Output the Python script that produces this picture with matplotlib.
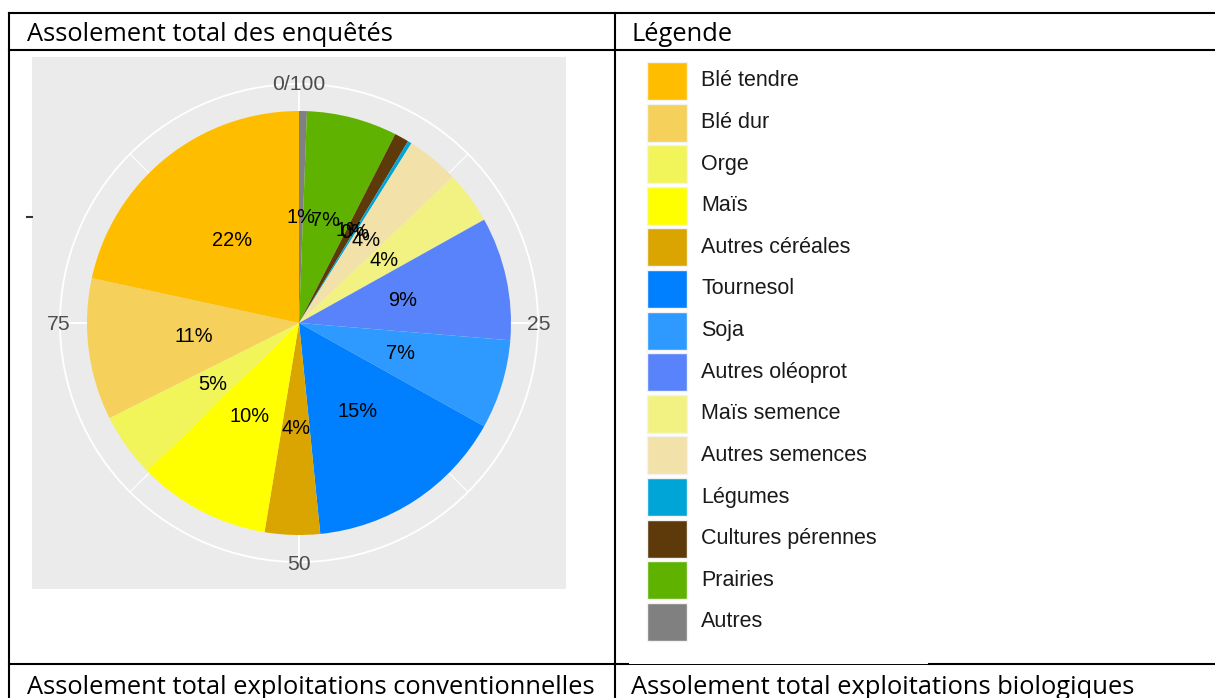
import numpy as np
import matplotlib.pyplot as plt
from matplotlib.patches import Rectangle, Circle

# crops in legend order, shares in % of the total surveyed area
crops = ['Blé tendre', 'Blé dur', 'Orge', 'Maïs', 'Autres céréales',
         'Tournesol', 'Soja', 'Autres oléoprot', 'Maïs semence',
         'Autres semences', 'Légumes', 'Cultures pérennes', 'Prairies', 'Autres']
shares = [21.6, 10.8, 4.9, 10.1, 4.2, 15.3, 6.8, 9.4, 4.0, 4.0, 0.3, 1.1, 6.9, 0.6]
colors = ['#FFBD00', '#F5D05A', '#F2F55A', '#FFFF00', '#DAA500',
          '#007FFF', '#2E9AFF', '#5983FA', '#F2F283', '#F3E1AA',
          '#00A5D8', '#5E3A0B', '#5FB200', '#808080']

theta_breaks = [0, 25, 50, 75]
theta_labels = ['0/100', '25', '50', '75']
minor_breaks = [12.5, 37.5, 62.5, 87.5]

cell_titles = ['Assolement total des enquêtés', 'Légende',
               'Assolement total exploitations conventionnelles',
               'Assolement total exploitations biologiques']

W, H = 1215, 698
fig = plt.figure(figsize=(W / 100, H / 100), dpi=100)

# page in pixel coordinates for the table around the chart
page = fig.add_axes([0, 0, 1, 1])
page.set_xlim(0, W)
page.set_ylim(H, 0)
page.axis('off')

lw = 1.5
page.plot([9, W], [13, 13], color='black', lw=lw)
page.plot([9, W], [50, 50], color='black', lw=lw)
page.plot([9, 628], [664, 664], color='black', lw=lw)
page.plot([628, 929], [663.5, 663.5], color='black', lw=0.7)
page.plot([929, W], [664, 664], color='black', lw=lw)
page.plot([9, 9], [13, H], color='black', lw=lw)
page.plot([615, 615], [13, H], color='black', lw=lw)

title_font = dict(family='Open Sans', fontsize=18.4, color='black', va='baseline')
page.text(27, 41, cell_titles[0], **title_font)
page.text(631, 41, cell_titles[1], **title_font)
page.text(27, 694, cell_titles[2], **title_font)
page.text(631, 694, cell_titles[3], **title_font)

# legend
for i, (name, col) in enumerate(zip(crops, colors)):
    y0 = 62 + 41.6 * i
    page.add_patch(Rectangle((647, y0), 40, 38, facecolor=col,
                             edgecolor='#F2F2F2', lw=1))
    page.text(701, y0 + 19, name, va='center', fontsize=15.5,
              color='#1A1A1A', family='Liberation Sans')

# pie panel
ax = fig.add_axes([32 / W, 1 - 589 / H, 534 / W, 532 / H])
R = 212
R_out = 239

for v in theta_breaks:
    a = np.deg2rad(v * 3.6)
    ax.plot([0, R_out * np.sin(a)], [0, R_out * np.cos(a)], color='white', lw=1.3, zorder=0.5)
for v in minor_breaks:
    a = np.deg2rad(v * 3.6)
    ax.plot([0, R_out * np.sin(a)], [0, R_out * np.cos(a)], color='white', lw=0.8, zorder=0.5)
ax.add_patch(Circle((0, 0), R_out, fill=False, ec='white', lw=1.3, zorder=0.5))

ax.pie(shares[::-1], colors=colors[::-1], radius=R, startangle=90,
       counterclock=False, autopct=lambda p: f'{round(p)}%', pctdistance=0.5,
       wedgeprops=dict(linewidth=0),
       textprops=dict(fontsize=14.4, family='Liberation Sans', color='black'))

for v, lab in zip(theta_breaks, theta_labels):
    a = np.deg2rad(v * 3.6)
    ax.text(240 * np.sin(a), 240 * np.cos(a) - 2, lab, ha='center', va='center',
            fontsize=15.2, color='#4D4D4D', family='Liberation Sans')

ax.plot([-272, -267], [106, 106], color='#333333', lw=1.5, clip_on=False)

ax.set_frame_on(True)
ax.set_facecolor('#EBEBEB')
for s in ax.spines.values():
    s.set_visible(False)
ax.set_xticks([])
ax.set_yticks([])
ax.set_xlim(-267, 267)
ax.set_ylim(-266, 266)
ax.set_aspect('equal')

fig.savefig('out.png', dpi=100, facecolor='white')
